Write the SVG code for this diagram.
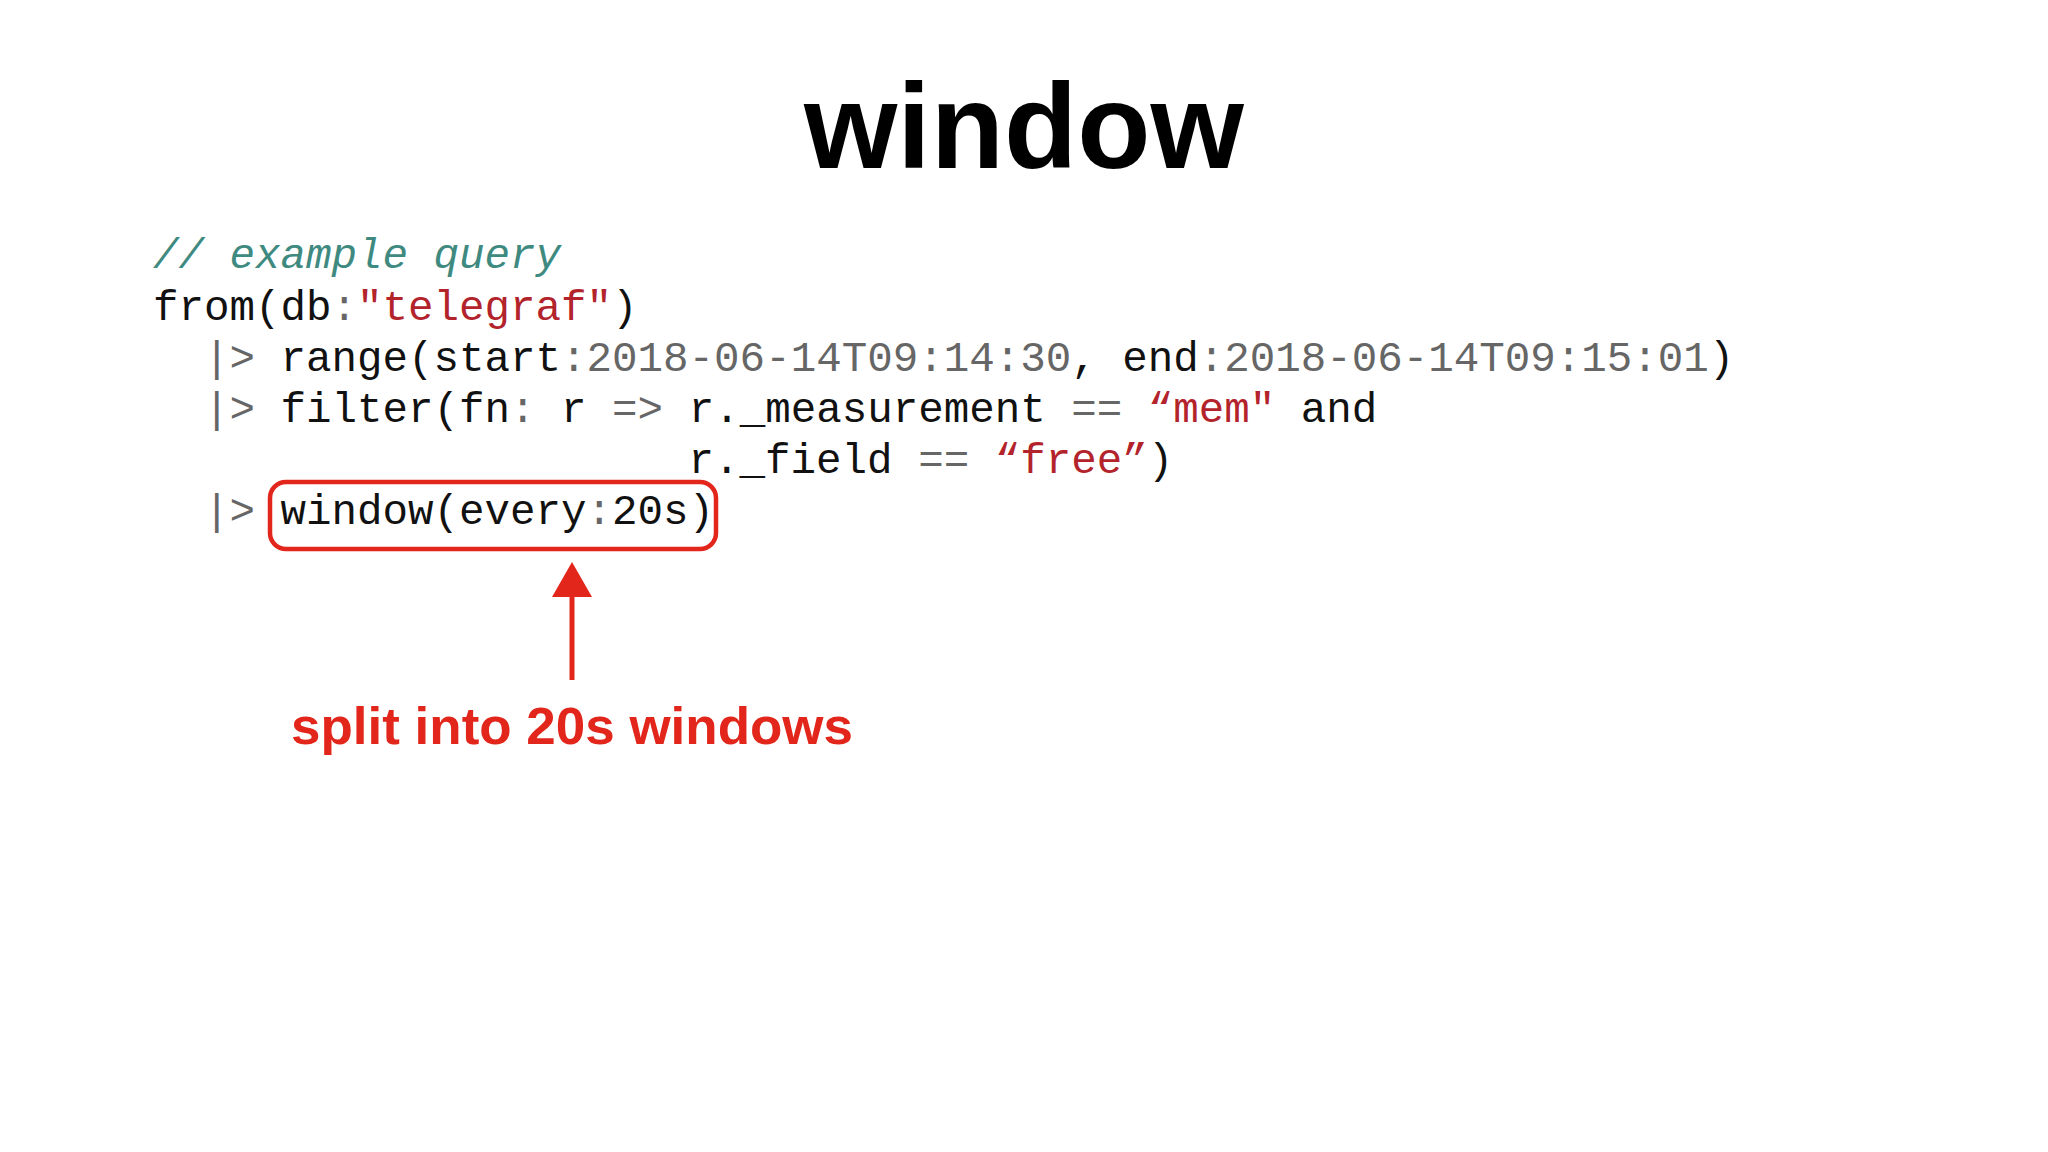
<svg xmlns="http://www.w3.org/2000/svg" width="2048" height="1152" viewBox="0 0 2048 1152">
<style>
.code{font-family:"Liberation Mono","DejaVu Sans Mono",monospace;font-size:42.5px;fill:#111}
.c{fill:#3f8a80;font-style:italic}
.s{fill:#b3232b}
.g{fill:#666}
</style>
<rect width="2048" height="1152" fill="#fff"/>
<g id="title"><text x="1024" y="168" text-anchor="middle" font-family="Liberation Sans,Arial,sans-serif" font-weight="bold" font-size="120" fill="#000">window</text></g>
<g id="code">
<text class="code" xml:space="preserve" x="153" y="268"><tspan class="c">// example query</tspan></text>
<text class="code" xml:space="preserve" x="153" y="320">from(db<tspan class="g">:</tspan><tspan class="s">"telegraf"</tspan>)</text>
<text class="code" xml:space="preserve" x="153" y="371">  <tspan class="g">|&gt;</tspan> range(start<tspan class="g">:2018-06-14T09:14:30</tspan>, end<tspan class="g">:2018-06-14T09:15:01</tspan>)</text>
<text class="code" xml:space="preserve" x="153" y="422">  <tspan class="g">|&gt;</tspan> filter(fn<tspan class="g">:</tspan> r <tspan class="g">=&gt;</tspan> r._measurement <tspan class="g">==</tspan> <tspan class="s">“mem"</tspan> and</text>
<text class="code" xml:space="preserve" x="153" y="473">                     r._field <tspan class="g">==</tspan> <tspan class="s">“free”</tspan>)</text>
<text class="code" xml:space="preserve" x="153" y="524">  <tspan class="g">|&gt;</tspan> window(every<tspan class="g">:</tspan>20s)</text>
</g>
<g id="highlight"><rect x="270" y="482" width="446" height="67" rx="16" fill="none" stroke="#e3261b" stroke-width="4.5"/></g>
<g id="connectors">
<line x1="572" y1="680" x2="572" y2="590" stroke="#e3261b" stroke-width="5"/>
<polygon points="572,562 552,597 592,597" fill="#e3261b"/>
</g>
<g id="label"><text x="572" y="744" text-anchor="middle" font-family="Liberation Sans,Arial,sans-serif" font-weight="bold" font-size="52" fill="#e3261b" textLength="562" lengthAdjust="spacingAndGlyphs">split into 20s windows</text></g>
</svg>
